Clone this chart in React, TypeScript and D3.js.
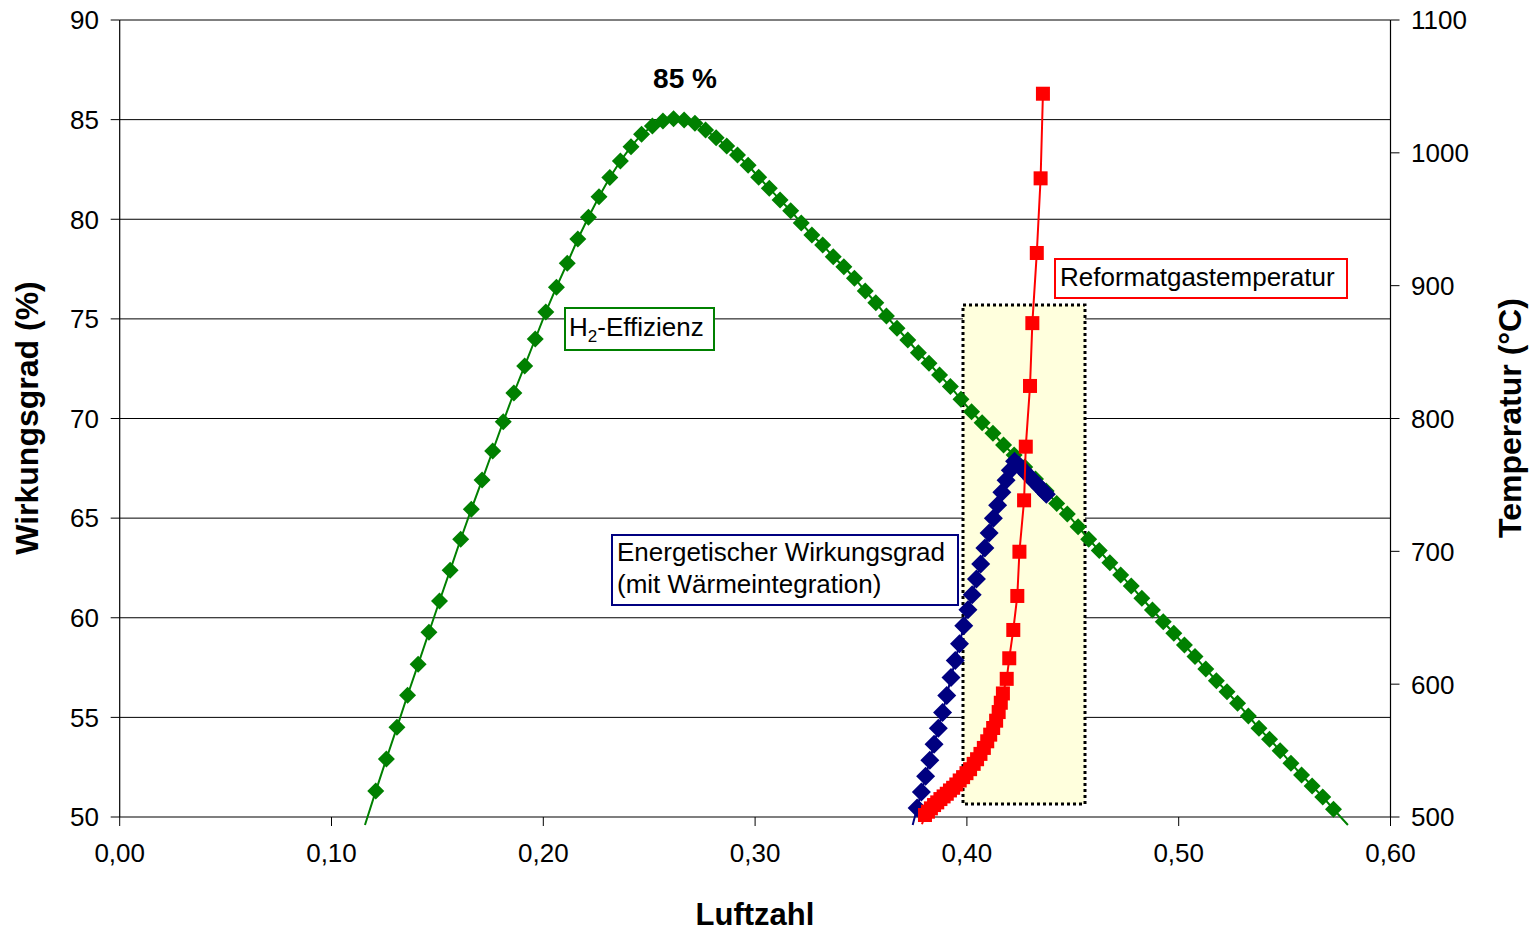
import React from "react";
import * as d3 from "d3";

// ---------- data ----------
// H2-Effizienz (left axis, %)
const greenLambda = [
  0.1158, 0.1209, 0.1259, 0.1309, 0.1359, 0.1409, 0.146, 0.151, 0.156, 0.161, 0.166,
  0.1711, 0.1761, 0.1811, 0.1861, 0.1912, 0.1962, 0.2012, 0.2062, 0.2113, 0.2163,
  0.2213, 0.2263, 0.2314, 0.2364, 0.2414, 0.2464, 0.2515, 0.2565, 0.2615, 0.2665,
  0.2716, 0.2766, 0.2816, 0.2866, 0.2917, 0.2967, 0.3017, 0.3067, 0.3118, 0.3168,
  0.3218, 0.3268, 0.3319, 0.3369, 0.3419, 0.3469, 0.352, 0.357, 0.362, 0.367,
  0.3721, 0.3771, 0.3821, 0.3871, 0.3922, 0.3972, 0.4022, 0.4072, 0.4123, 0.4173,
  0.4223, 0.4273, 0.4324, 0.4374, 0.4424, 0.4474, 0.4525, 0.4575, 0.4625, 0.4675,
  0.4726, 0.4776, 0.4826, 0.4876, 0.4927, 0.4977, 0.5027, 0.5077, 0.5128, 0.5178,
  0.5228, 0.5278, 0.5329, 0.5379, 0.5429, 0.5479, 0.553, 0.558, 0.563, 0.568,
  0.5731, 0.5799,
];
const greenEff = [
  49.6, 51.3, 52.91, 54.5, 56.11, 57.66, 59.27, 60.84, 62.38, 63.94, 65.44,
  66.91, 68.37, 69.84, 71.28, 72.64, 73.99, 75.35, 76.59, 77.79, 79.01,
  80.1, 81.13, 82.09, 82.92, 83.64, 84.26, 84.68, 84.93, 85.05, 84.98,
  84.82, 84.48, 84.09, 83.68, 83.22, 82.71, 82.11, 81.55, 80.97, 80.43,
  79.81, 79.21, 78.71, 78.12, 77.62, 77.04, 76.4, 75.81, 75.14, 74.53,
  73.94, 73.3, 72.77, 72.18, 71.6, 70.96, 70.34, 69.79, 69.26, 68.67,
  68.17, 67.57, 66.96, 66.36, 65.74, 65.21, 64.57, 63.94, 63.37, 62.76,
  62.15, 61.59, 60.98, 60.39, 59.8, 59.22, 58.63, 58.05, 57.43, 56.84,
  56.29, 55.71, 55.07, 54.45, 53.9, 53.33, 52.7, 52.11, 51.56, 51.01,
  50.39, 49.6,
];

// Energetischer Wirkungsgrad (left axis, %)
const blueLambda = [
  0.3744, 0.3765, 0.3785, 0.3805, 0.3825, 0.3845, 0.3865, 0.3885, 0.3905, 0.3925,
  0.3945, 0.3965, 0.3985, 0.4005, 0.4025, 0.4045, 0.4065, 0.4085, 0.4105, 0.4125,
  0.4145, 0.4165, 0.4185, 0.4205, 0.4225, 0.4245, 0.4265, 0.4285, 0.4305, 0.4325,
  0.4345, 0.4365, 0.4375,
];
const blueEff = [
  49.6, 50.45, 51.25, 52.05, 52.85, 53.65, 54.45, 55.25, 56.1, 57.0,
  57.85, 58.7, 59.6, 60.4, 61.15, 61.95, 62.7, 63.5, 64.25, 65.0,
  65.65, 66.3, 66.9, 67.4, 67.85, 67.65, 67.43, 67.2, 66.98, 66.76,
  66.54, 66.32, 66.2,
];

// Reformatgastemperatur (right axis, °C)
const redLambda = [
  0.3788, 0.3802, 0.3816, 0.383, 0.3845, 0.386, 0.3875, 0.389, 0.3905, 0.392,
  0.3935, 0.395, 0.3966, 0.3982, 0.3998, 0.4015, 0.4032, 0.4048, 0.4064, 0.408,
  0.4096, 0.411, 0.4124, 0.4138, 0.415, 0.416, 0.417, 0.4188, 0.42, 0.4219,
  0.4238, 0.4248, 0.427, 0.4278, 0.4298, 0.4309, 0.433, 0.4348, 0.4359,
];
const redTemp = [
  494.5, 501.5, 504, 506.5, 509, 511, 513.5, 515.5, 517.5, 520,
  522, 524.5, 527.5, 530, 533, 536, 540, 543.5, 547.5, 552,
  557, 562, 567, 572.5, 579, 586, 593, 604, 619.5, 640.8,
  666.4, 699.7, 738.4, 778.8, 824.5, 871.8, 924.6, 980.8, 1044.5,
];

const xTicks = [0, 0.1, 0.2, 0.3, 0.4, 0.5, 0.6];
const yLeftTicks = [50, 55, 60, 65, 70, 75, 80, 85, 90];
const yRightTicks = [500, 600, 700, 800, 900, 1000, 1100];

// ---------- layout ----------
const W = 1537;
const H = 931;
const L = 119.7;
const R = 1390.5;
const T = 20;
const B = 817;
const FONT = "'Liberation Sans', Arial, Helvetica, sans-serif";

const x = d3.scaleLinear().domain([0, 0.6]).range([L, R]);
const yL = d3.scaleLinear().domain([50, 90]).range([B, T]);
const yR = d3.scaleLinear().domain([500, 1100]).range([B, T]);

const fmtX = (v: number) => d3.format(".2f")(v).replace(".", ",");

type Pt = [number, number];

export default function App() {
  const green: Pt[] = greenLambda.map((l, i) => [x(l), yL(greenEff[i])]);
  const blue: Pt[] = blueLambda.map((l, i) => [x(l), yL(blueEff[i])]);
  const red: Pt[] = redLambda.map((l, i) => [x(l), yR(redTemp[i])]);
  const line = d3.line<Pt>().x((d) => d[0]).y((d) => d[1]);

  const gs = 8.5; // diamond half diagonal
  const bs = 9.5;
  const rs = 7; // square half side
  const diamond = (cx: number, cy: number, s: number) =>
    `M${cx},${cy - s}L${cx + s},${cy}L${cx},${cy + s}L${cx - s},${cy}Z`;

  return (
    <svg
      width={W}
      height={H}
      style={{ position: "absolute", left: 0, top: 0, background: "#fff" }}
      fontFamily={FONT}
    >
      <defs>
        <clipPath id="plotclip">
          <rect x={L} y={T - 10} width={R - L} height={B - T + 20} />
        </clipPath>
      </defs>
      <rect x={0} y={0} width={W} height={H} fill="#fff" />

      {/* gridlines */}
      {yLeftTicks.filter((t) => t > 50).map((t) => (
        <line key={"g" + t} x1={L} x2={R} y1={yL(t)} y2={yL(t)} stroke="#000" strokeWidth={1} />
      ))}

      {/* highlighted region */}
      <rect
        x={963}
        y={305}
        width={122}
        height={499}
        fill="#FFFFDD"
        stroke="#000"
        strokeWidth={3}
        strokeDasharray="3,3"
      />

      {/* axes */}
      <line x1={L} x2={L} y1={T} y2={B} stroke="#000" strokeWidth={1.2} />
      <line x1={R} x2={R} y1={T} y2={B} stroke="#000" strokeWidth={1.2} />
      <line x1={L} x2={R} y1={B} y2={B} stroke="#000" strokeWidth={1.2} />

      {yLeftTicks.map((t) => (
        <g key={"yl" + t}>
          <line x1={L - 9} x2={L} y1={yL(t)} y2={yL(t)} stroke="#000" />
          <text x={99} y={yL(t)} dy="0.36em" textAnchor="end" fontSize={26}>
            {t}
          </text>
        </g>
      ))}
      {yRightTicks.map((t) => (
        <g key={"yr" + t}>
          <line x1={R} x2={R + 9} y1={yR(t)} y2={yR(t)} stroke="#000" />
          <text x={1411} y={yR(t)} dy="0.36em" textAnchor="start" fontSize={26}>
            {t}
          </text>
        </g>
      ))}
      {xTicks.map((t) => (
        <g key={"x" + t}>
          <line x1={x(t)} x2={x(t)} y1={B} y2={B + 9} stroke="#000" />
          <text x={x(t)} y={862} textAnchor="middle" fontSize={26}>
            {fmtX(t)}
          </text>
        </g>
      ))}

      {/* axis titles */}
      <text x={755} y={925} textAnchor="middle" fontSize={31} fontWeight="bold">
        Luftzahl
      </text>
      <text
        transform="translate(38,418) rotate(-90)"
        textAnchor="middle"
        fontSize={32}
        fontWeight="bold"
      >
        Wirkungsgrad (%)
      </text>
      <text
        transform="translate(1521,418) rotate(-90)"
        textAnchor="middle"
        fontSize={32}
        fontWeight="bold"
      >
        Temperatur (°C)
      </text>

      {/* series */}
      <g clipPath="url(#plotclip)">
        <path d={line(green) || ""} fill="none" stroke="#008000" strokeWidth={2} />
        {green
          .filter((_, i) => greenEff[i] >= 50)
          .map((p, i) => (
            <path key={"gm" + i} d={diamond(p[0], p[1], gs)} fill="#008000" />
          ))}
        <path d={line(blue) || ""} fill="none" stroke="#000080" strokeWidth={2} />
        {blue
          .filter((_, i) => blueEff[i] >= 50)
          .map((p, i) => (
            <path key={"bm" + i} d={diamond(p[0], p[1], bs)} fill="#000080" />
          ))}
        <path d={line(red) || ""} fill="none" stroke="#FF0000" strokeWidth={2} />
        {red
          .filter((_, i) => redTemp[i] >= 500)
          .map((p, i) => (
            <rect key={"rm" + i} x={p[0] - rs} y={p[1] - rs} width={rs * 2} height={rs * 2} fill="#FF0000" />
          ))}
      </g>

      {/* annotations */}
      <text x={685} y={88} textAnchor="middle" fontSize={28} fontWeight="bold">
        85 %
      </text>

      <rect x={565} y={308} width={149} height={42} fill="#fff" stroke="#008000" strokeWidth={2} />
      <text x={569} y={336} fontSize={26}>
        H<tspan fontSize={17} dy={6}>2</tspan>
        <tspan dy={-6}>-Effizienz</tspan>
      </text>

      <rect x={612} y={535} width={346} height={70} fill="#fff" stroke="#000080" strokeWidth={2} />
      <text x={617} y={561} fontSize={26}>
        Energetischer Wirkungsgrad
      </text>
      <text x={617} y={593} fontSize={26}>
        (mit Wärmeintegration)
      </text>

      <rect x={1055} y={259} width={292} height={39} fill="#fff" stroke="#FF0000" strokeWidth={2} />
      <text x={1060} y={286} fontSize={26}>
        Reformatgastemperatur
      </text>
    </svg>
  );
}
